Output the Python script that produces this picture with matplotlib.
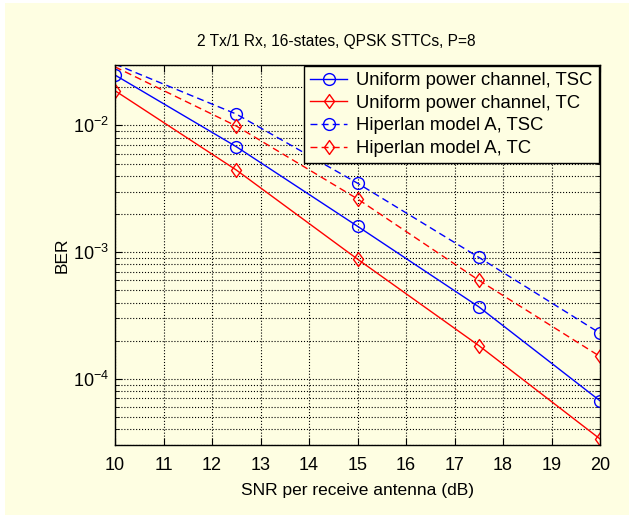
import matplotlib
matplotlib.use('Agg')
import matplotlib.pyplot as plt
import matplotlib.patches as patches
from matplotlib.path import Path
from matplotlib.ticker import LogLocator, NullFormatter, FixedLocator

plt.rcParams['font.family'] = ['Liberation Sans', 'DejaVu Sans']

# data
snr = [10, 12.5, 15, 17.5, 20]
ber_uniform_tsc = [2.5e-2, 6.8e-3, 1.6e-3, 3.7e-4, 6.7e-5]
ber_uniform_tc = [1.88e-2, 4.45e-3, 8.8e-4, 1.83e-4, 3.35e-5]
ber_hiperlan_tsc = [3.05e-2, 1.23e-2, 3.5e-3, 9.1e-4, 2.29e-4]
ber_hiperlan_tc = [2.9e-2, 9.9e-3, 2.63e-3, 6.0e-4, 1.5e-4]

labels = ['Uniform power channel, TSC', 'Uniform power channel, TC',
          'Hiperlan model A, TSC', 'Hiperlan model A, TC']
title = '2 Tx/1 Rx, 16-states, QPSK STTCs, P=8'
xticks = list(range(10, 21))

bg = '#FEFEE2'

# matlab-like diamond, a bit narrower than tall
diamond = Path([(0, 1), (0.72, 0), (0, -1), (-0.72, 0), (0, 1)],
               [Path.MOVETO, Path.LINETO, Path.LINETO, Path.LINETO, Path.CLOSEPOLY])

fig = plt.figure(figsize=(6.29, 5.15), dpi=100, facecolor='white')
# cream panel, thin white strip at top/left as in the reference
fig.patches.append(patches.Rectangle((5 / 629, 0), 1, 1 - 3 / 515,
                                     transform=fig.transFigure,
                                     facecolor=bg, edgecolor='none', zorder=-10))
ax = fig.add_axes([115 / 629, 1 - 445 / 515, 485 / 629, 380 / 515])
ax.set_facecolor(bg)

kw = dict(linewidth=1.0, markerfacecolor='none', markeredgewidth=1.0)
ax.plot(snr, ber_uniform_tsc, 'b-', marker='o', markersize=8.5, label=labels[0], **kw)
ax.plot(snr, ber_uniform_tc, 'r-', marker=diamond, markersize=10, label=labels[1], **kw)
ax.plot(snr, ber_hiperlan_tsc, 'b--', marker='o', markersize=8.5, markevery=[1, 2, 3, 4],
        dashes=(5, 3), label=labels[2], **kw)
ax.plot(snr, ber_hiperlan_tc, 'r--', marker=diamond, markersize=10, markevery=[1, 2, 3, 4],
        dashes=(5, 3), label=labels[3], **kw)

ax.set_yscale('log')
ax.set_xlim(10, 20)
ax.set_ylim(3e-5, 3e-2)
ax.xaxis.set_major_locator(FixedLocator(xticks))
ax.yaxis.set_major_locator(LogLocator(base=10))
ax.yaxis.set_minor_locator(LogLocator(base=10, subs=range(2, 10)))
ax.yaxis.set_minor_formatter(NullFormatter())

ax.grid(True, which='major', color='black', linestyle=':', linewidth=0.8)
ax.grid(True, which='minor', axis='y', color='black', linestyle=':', linewidth=0.8)
ax.tick_params(which='both', direction='in', top=True, right=True, labelsize=13)
ax.tick_params(which='major', length=5)
ax.tick_params(which='minor', length=3)
ax.tick_params(axis='x', which='major', pad=9)
ax.tick_params(axis='y', which='major', pad=4)
for s in ax.spines.values():
    s.set_linewidth(1.0)

# title sits a little left of the axes centre in the reference
ax.set_title(title, fontsize=11.2, pad=14, x=0.456)
ax.set_xlabel('SNR per receive antenna (dB)', fontsize=12.5, labelpad=6)
ax.set_ylabel('BER', fontsize=12.5, labelpad=3)

leg = ax.legend(loc='upper right', fontsize=13.3, frameon=True, fancybox=False,
                framealpha=1, facecolor=bg, edgecolor='black',
                borderaxespad=0.05, handlelength=2.0, labelspacing=0.3,
                borderpad=0.35, handletextpad=0.5)
leg.get_frame().set_linewidth(1.0)

fig.savefig('out.png', dpi=100, facecolor='white')
